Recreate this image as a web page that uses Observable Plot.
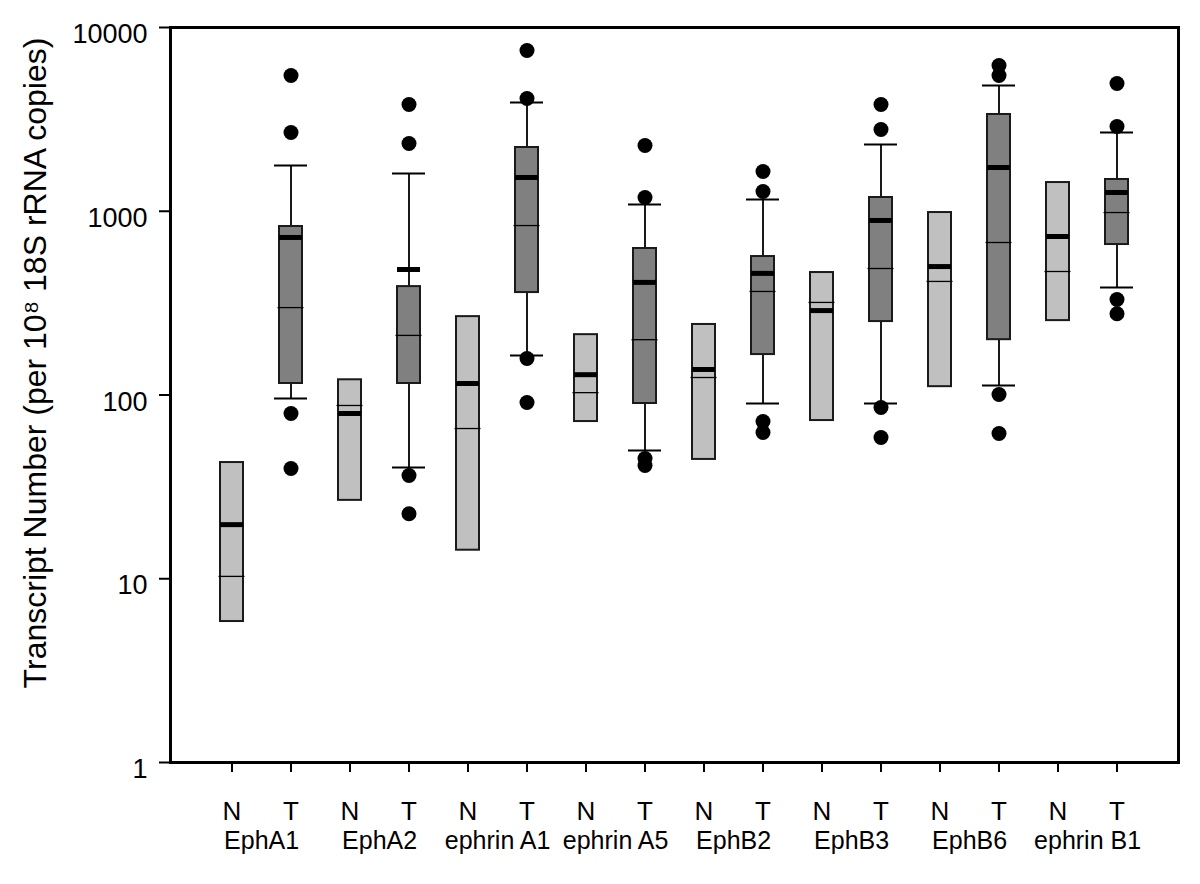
<!DOCTYPE html>
<html>
<head>
<meta charset="utf-8">
<script src="https://cdn.jsdelivr.net/npm/d3@7"></script>
<script src="https://cdn.jsdelivr.net/npm/@observablehq/plot@0.6"></script>
<style>
  html, body { margin: 0; padding: 0; background: #fff; }
  #chart svg { display: block; }
</style>
</head>
<body>
<div id="chart"></div>
<script>
// ---- data ----
const genes = ["EphA1", "EphA2", "ephrin A1", "ephrin A5", "EphB2", "EphB3", "EphB6", "ephrin B1"];
const groupLabels = ["N", "T"];
const yTicks = [1, 10, 100, 1000, 10000];
const yLabel = "Transcript Number (per 10⁸ 18S rRNA copies)";

// Normal tissue (N): box bottom, median, mean, box top
const nLow    = [5.85, 26.7, 14.3, 71.7, 44.6, 72.6, 111, 254];
const nMedian = [10.3, 87.7, 65.7, 103, 124.5, 319, 415, 470];
const nMean   = [19.7, 79.3, 115.5, 129, 137.7, 288, 500, 729];
const nHigh   = [42.9, 121, 267, 213, 242, 464, 984, 1433];

// Tumour tissue (T): whiskers, quartiles, median, mean
const tWhiskerLow  = [95.7, 40.3, 164, 49.9, 89.9, 89.9, 112.7, 385];
const tQ1          = [115.5, 115.5, 361, 89.9, 166, 251, 200, 659];
const tMedian      = [299, 211, 836, 200, 366, 488, 676, 984];
const tMean        = [720, 482, 1527, 410, 459, 891, 1730, 1265];
const tQ3          = [826, 389, 2223, 627, 567, 1188, 3362, 1489];
const tWhiskerHigh = [1775, 1604, 3908, 1088, 1159, 2309, 4835, 2683];
const tOutliers = [
  [5480, 2683, 79.3, 39.8],
  [3811, 2338, 36.5, 22.6],
  [7499, 4110, 158, 91],
  [2280, 1188, 45.1, 41.3],
  [1645, 1280, 71.7, 62.5],
  [3811, 2786, 85.5, 58.7],
  [6210, 5480, 100.6, 61.7],
  [4957, 2893, 331, 277]
];

// ---- tables built from the arrays ----
const cats = genes.flatMap(g => groupLabels.map(s => `${g} ${s}`));
const boxes = genes.flatMap((g, i) => [
  {cat: `${g} N`, grp: "N", lo: nLow[i], med: nMedian[i], mean: nMean[i], hi: nHigh[i]},
  {cat: `${g} T`, grp: "T", lo: tQ1[i], med: tMedian[i], mean: tMean[i], hi: tQ3[i],
   wlo: tWhiskerLow[i], whi: tWhiskerHigh[i]}
]);
const tBoxes = boxes.filter(d => d.grp === "T");
const outliers = genes.flatMap((g, i) => tOutliers[i].map(v => ({cat: `${g} T`, v})));

const font = "'Liberation Sans', Arial, Helvetica, sans-serif";

const chart = Plot.plot({
  width: 1200,
  height: 884,
  marginLeft: 170,
  marginRight: 22,
  marginTop: 27,
  marginBottom: 122,
  style: {fontFamily: font, color: "#000", background: "#fff"},
  x: {type: "band", domain: cats, paddingInner: 0.61, paddingOuter: 0.8, axis: null},
  y: {type: "log", domain: [1, 10000], axis: null},
  marks: [
    // whiskers
    Plot.ruleX(tBoxes, {x: "cat", y1: "hi", y2: "whi", stroke: "#000", strokeWidth: 1.8}),
    Plot.ruleX(tBoxes, {x: "cat", y1: "wlo", y2: "lo", stroke: "#000", strokeWidth: 1.8}),
    // whisker caps
    Plot.tickY(tBoxes, {x: "cat", y: "whi", stroke: "#000", strokeWidth: 2, insetLeft: -5, insetRight: -5}),
    Plot.tickY(tBoxes, {x: "cat", y: "wlo", stroke: "#000", strokeWidth: 2, insetLeft: -5, insetRight: -5}),
    // boxes
    Plot.barY(boxes, {x: "cat", y1: "lo", y2: "hi",
      fill: d => d.grp === "N" ? "#c0c0c0" : "#808080", stroke: "#1a1a1a", strokeWidth: 2}),
    // medians (thin)
    Plot.tickY(boxes, {x: "cat", y: "med", stroke: "#000", strokeWidth: 1.3, insetLeft: -1.5, insetRight: -1.5}),
    // means (thick)
    Plot.tickY(boxes, {x: "cat", y: "mean", stroke: "#000", strokeWidth: 5}),
    // outliers
    Plot.dot(outliers, {x: "cat", y: "v", r: 7.5, fill: "#000", stroke: "none"}),
    // frame
    Plot.frame({stroke: "#000", strokeWidth: 3}),
    // y axis ticks and labels
    Plot.axisY(yTicks, {fill: "none", tickSize: 11, strokeWidth: 2, label: null}),
    Plot.axisY(yTicks, {stroke: "none", tickSize: 11, tickPadding: 12, dy: 7, fontSize: 27,
      tickFormat: d => String(d), label: null}),
    // x axis ticks and N/T labels
    Plot.axisX({tickSize: 10, tickPadding: 29, fontSize: 26, strokeWidth: 2,
      tickFormat: d => d.slice(-1), label: null}),
    // gene labels centred between N and T
    Plot.text(genes, {x: d => `${d} N`, text: d => d, frameAnchor: "bottom", lineAnchor: "top",
      dx: 29.6, dy: 69, fontSize: 25, fill: "#000"}),
    // y axis title
    Plot.text([yLabel], {frameAnchor: "left", textAnchor: "middle", rotate: -90, dx: -135, dy: -32,
      fontSize: 32, fill: "#000"})
  ]
});
document.getElementById("chart").appendChild(chart);
</script>
</body>
</html>
